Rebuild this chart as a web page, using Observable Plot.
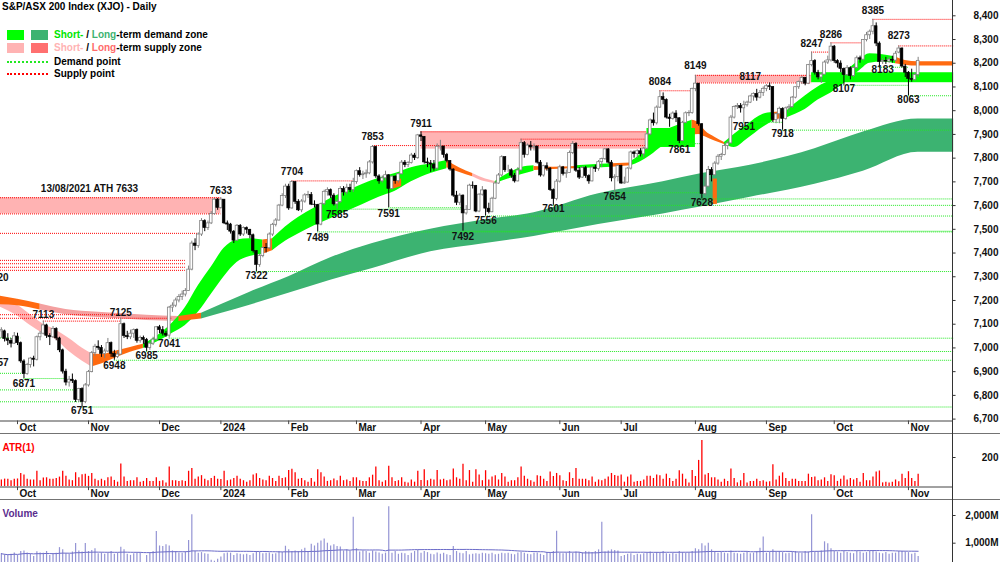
<!DOCTYPE html>
<html><head><meta charset="utf-8">
<script src="https://cdn.jsdelivr.net/npm/d3@7"></script>
<script src="https://cdn.jsdelivr.net/npm/@observablehq/plot@0.6"></script>
<style>
body{margin:0;background:#fff;font-family:"Liberation Sans",Arial,sans-serif;}
#wrap{position:relative;width:1000px;height:562px;overflow:hidden;background:#fff;}
.panel{position:absolute;left:0;width:1000px;}
.panel svg{display:block;}
#title{position:absolute;left:2px;top:1px;font:bold 10px "Liberation Sans",Arial,sans-serif;color:#000;line-height:12px;}
.lg{position:absolute;font:bold 10px "Liberation Sans",Arial,sans-serif;color:#000;line-height:12px;white-space:nowrap;}
.sq{position:absolute;width:17px;height:10px;}
.dl{position:absolute;width:41px;height:0;border-top:2px dotted;}
</style></head>
<body><div id="wrap"></div>
<script>
// ---------------- DATA ----------------
// daily candles [open, high, low, close], trading-day index starts at -5 (25 Sep 2023)
const firstIndex = -5;
const sep23 = [[7070,7085,7040,7076],[7070,7075,7025,7037],[7037,7060,7010,7030],[7030,7040,7000,7018],[7018,7065,7015,7049]];
const oct23 = [[7048,7062,7010,7020],[7020,7025,6935,6943],[6943,6950,6871,6890],[6890,6935,6885,6928],[6928,6960,6915,6955],[6955,6965,6920,6950],[6950,7050,6945,7045],[7045,7070,7030,7060],[7060,7113,7055,7095],[7095,7100,7040,7051],[7051,7060,7010,7045],[7045,7090,7040,7080],[7080,7085,7030,7040],[7040,7045,6980,6990],[6990,6995,6890,6900],[6900,6910,6840,6854],[6854,6880,6835,6866],[6866,6890,6850,6860],[6860,6865,6770,6780],[6780,6830,6770,6827],[6827,6832,6751,6772],[6772,6850,6765,6842]];
const nov23 = [[6842,6905,6835,6898],[6898,6985,6895,6978],[6978,7015,6965,7005],[7005,7030,6990,7000],[7000,7010,6960,6975],[6975,6995,6955,6985],[6985,7040,6980,7020],[7020,7025,6960,6975],[6975,6990,6948,6962],[6962,6985,6955,6972],[6972,7125,6970,7100],[7100,7105,7040,7050],[7050,7070,7035,7045],[7045,7075,7035,7060],[7060,7080,7040,7075],[7075,7080,7020,7030],[7030,7050,7020,7042],[7042,7050,7015,7034],[7034,7040,6985,7000],[7000,7025,6990,7018],[7018,7045,7010,7035],[7035,7090,7030,7087]];
const dec23 = [[7087,7095,7060,7075],[7075,7090,7050,7060],[7060,7070,7045,7052],[7052,7175,7041,7170],[7170,7190,7150,7178],[7178,7210,7170,7200],[7200,7225,7190,7215],[7215,7240,7200,7225],[7225,7250,7215,7240],[7240,7345,7240,7330],[7330,7450,7325,7440],[7440,7460,7410,7430],[7430,7485,7420,7478],[7478,7545,7470,7535],[7535,7540,7490,7505],[7505,7535,7495,7525],[7525,7575,7520,7565],[7565,7630,7560,7625],[7625,7630,7580,7590]];
const jan24 = [[7590,7633,7585,7625],[7625,7625,7520,7525],[7525,7535,7495,7520],[7520,7525,7480,7490],[7490,7495,7440,7452],[7452,7520,7450,7515],[7515,7520,7470,7478],[7478,7510,7470,7505],[7505,7510,7480,7498],[7498,7500,7460,7475],[7475,7480,7400,7408],[7408,7410,7322,7350],[7350,7395,7340,7387],[7387,7425,7380,7421],[7421,7440,7400,7420],[7420,7485,7415,7478],[7478,7525,7470,7519],[7519,7545,7510,7537],[7537,7605,7535,7600],[7600,7650,7595,7640],[7640,7690,7630,7680]];
const feb24 = [[7680,7690,7580,7588],[7588,7704,7585,7699],[7699,7700,7605,7616],[7616,7625,7575,7580],[7580,7625,7570,7617],[7617,7650,7610,7643],[7643,7660,7630,7645],[7645,7655,7600,7604],[7604,7620,7590,7603],[7603,7605,7489,7520],[7520,7610,7515,7606],[7606,7665,7600,7658],[7658,7675,7640,7665],[7665,7670,7630,7642],[7642,7650,7598,7605],[7605,7625,7585,7615],[7615,7680,7610,7670],[7670,7680,7640,7655],[7655,7690,7645,7675],[7675,7690,7655,7665],[7665,7715,7655,7699]];
const mar24 = [[7699,7750,7690,7745],[7745,7760,7720,7728],[7728,7745,7710,7732],[7732,7750,7715,7736],[7736,7790,7730,7782],[7782,7853,7775,7847],[7847,7850,7715,7723],[7723,7730,7690,7702],[7702,7725,7695,7715],[7715,7745,7705,7728],[7728,7730,7591,7670],[7670,7725,7665,7722],[7722,7725,7690,7703],[7703,7735,7695,7732],[7732,7790,7730,7781],[7781,7790,7760,7771],[7771,7785,7760,7780],[7780,7820,7775,7811],[7811,7820,7790,7800],[7800,7900,7795,7896]];
const apr24 = [[7896,7911,7870,7890],[7890,7890,7775,7782],[7782,7800,7760,7778],[7778,7790,7740,7773],[7773,7790,7745,7756],[7756,7860,7750,7848],[7848,7875,7830,7849],[7849,7850,7800,7813],[7813,7820,7780,7788],[7788,7790,7745,7752],[7752,7755,7635,7642],[7642,7660,7600,7612],[7612,7650,7600,7642],[7642,7645,7492,7567],[7567,7600,7560,7582],[7582,7690,7580,7684],[7684,7700,7670,7683],[7683,7685,7570,7575],[7575,7650,7570,7646],[7646,7680,7640,7664]];
const may24 = [[7664,7665,7556,7587],[7587,7610,7565,7572],[7572,7635,7570,7629],[7629,7700,7625,7693],[7693,7735,7690,7727],[7727,7810,7720,7804],[7804,7805,7740,7749],[7749,7770,7740,7749],[7749,7755,7715,7726],[7726,7735,7695,7702],[7702,7760,7700,7748],[7748,7880,7745,7863],[7863,7870,7800,7814],[7814,7860,7810,7853],[7853,7870,7830,7845],[7845,7860,7830,7849],[7849,7850,7775,7781],[7781,7790,7720,7727],[7727,7770,7720,7766],[7766,7780,7745,7756],[7756,7760,7660,7665],[7665,7670,7601,7628],[7628,7710,7620,7701]];
const jun24 = [[7701,7770,7695,7761],[7761,7765,7725,7733],[7733,7750,7715,7737],[7737,7830,7735,7822],[7822,7870,7815,7860],[7860,7865,7740,7747],[7747,7760,7710,7718],[7718,7765,7715,7758],[7758,7765,7715,7724],[7724,7730,7690,7702],[7702,7765,7700,7760],[7760,7770,7740,7754],[7754,7790,7745,7783],[7783,7800,7760,7796],[7796,7840,7790,7837],[7837,7840,7775,7781],[7781,7790,7700,7715],[7715,7730,7654,7720],[7720,7770,7700,7767]];
const jul24 = [[7767,7770,7690,7693],[7693,7720,7690,7697],[7697,7760,7695,7756],[7756,7830,7750,7824],[7824,7830,7800,7817],[7817,7835,7800,7829],[7829,7840,7805,7816],[7816,7845,7800,7840],[7840,7905,7835,7900],[7900,7965,7895,7959],[7959,7990,7935,7947],[7947,8020,7940,8013],[8013,8084,8010,8057],[8057,8075,8025,8045],[8045,8050,7965,7971],[7971,7985,7930,7965],[7965,7995,7960,7988],[7988,8000,7950,7968],[7968,7970,7861,7872],[7872,7955,7870,7949],[7949,7995,7945,7989],[7989,8000,7975,7990],[7990,8095,7985,8092]];
const aug24 = [[8092,8149,8080,8114],[8114,8115,7935,7943],[7943,7945,7628,7649],[7649,7720,7640,7680],[7680,7765,7675,7750],[7750,7760,7700,7728],[7728,7785,7725,7777],[7777,7815,7770,7806],[7806,7820,7790,7813],[7813,7860,7810,7851],[7851,7870,7835,7862],[7862,7980,7860,7971],[7971,8020,7965,8016],[8016,8030,8005,8020],[8020,8030,7990,8010],[8010,8040,7951,8023],[8023,8040,8015,8034],[8034,8065,8030,8060],[8060,8075,8040,8071],[8071,8090,8040,8055],[8055,8085,8050,8075],[8075,8100,8060,8092]];
const sep24 = [[8092,8110,8080,8103],[8103,8117,8085,8100],[8100,8100,7950,7960],[7960,7990,7945,7985],[7985,8015,7945,8008],[8008,8012,7918,7965],[7965,8015,7960,8010],[8010,8025,7990,8015],[8015,8060,8010,8055],[8055,8100,8050,8099],[8099,8125,8090,8121],[8121,8145,8110,8138],[8138,8140,8105,8114],[8114,8195,8110,8192],[8192,8247,8185,8209],[8209,8215,8150,8160],[8160,8170,8130,8140],[8140,8160,8115,8152],[8152,8210,8150,8203],[8203,8230,8195,8212],[8212,8286,8205,8270]];
const oct24 = [[8270,8275,8200,8209],[8209,8215,8180,8199],[8199,8210,8160,8176],[8176,8180,8107,8150],[8150,8190,8145,8179],[8179,8185,8130,8146],[8146,8185,8140,8180],[8180,8230,8175,8221],[8221,8230,8200,8215],[8215,8300,8210,8298],[8298,8330,8290,8318],[8318,8340,8300,8333],[8333,8385,8320,8356],[8356,8370,8270,8283],[8283,8290,8183,8205],[8205,8220,8195,8210],[8210,8225,8195,8207],[8207,8225,8200,8215],[8215,8230,8200,8211],[8211,8250,8205,8240],[8245,8273,8240,8262],[8262,8265,8180,8186],[8186,8195,8140,8160]];
const nov24 = [[8160,8165,8063,8134],[8134,8175,8120,8130],[8130,8160,8125,8150],[8150,8225,8140,8210]];

// daily volume, millions of shares
const volume = [620,580,560,600,650,
560,700,720,650,600,520,690,650,640,700,560,600,640,840,760,620,600,680,990,720,680,990,
700,740,800,620,650,600,640,700,600,640,850,760,600,560,620,640,650,300,560,650,700,1420,
900,880,940,900,720,700,650,640,680,1100,2030,700,640,660,620,600,380,350,420,
500,620,650,640,560,620,600,580,600,560,620,700,660,620,640,650,600,620,700,660,890,
760,700,720,700,760,820,700,960,900,1000,1080,1150,1000,900,940,880,860,720,760,700,1940,
800,680,720,700,640,720,680,650,600,640,2320,640,700,600,640,620,560,640,700,740,
640,700,660,600,580,650,600,640,580,560,880,700,640,620,700,580,600,620,600,640,
620,600,640,580,600,640,620,640,600,580,650,660,640,600,580,640,650,600,560,660,640,700,1430,
640,620,650,700,640,680,660,650,700,680,660,700,760,1760,680,720,760,740,720,
520,560,600,620,560,600,580,620,640,680,620,660,640,700,620,600,640,600,700,660,640,650,700,
800,760,980,900,1000,760,700,640,660,640,620,720,640,620,600,640,660,620,640,700,820,1220,
640,660,760,680,700,660,620,640,660,700,650,640,700,680,2025,660,680,720,1050,980,800,
700,680,640,700,660,640,620,700,680,640,660,700,720,680,640,620,660,600,640,640,700,700,680,
660,600,640,520];

// month tick labels [trading-day index, label]
const monthTicks = [[0,"Oct"],[22,"Nov"],[44,"Dec"],[63,"2024"],[84,"Feb"],[105,"Mar"],[125,"Apr"],[145,"May"],[168,"Jun"],[187,"Jul"],[210,"Aug"],[232,"Sep"],[253,"Oct"],[276,"Nov"]];
const priceTicks = [6700,6800,6900,7000,7100,7200,7300,7400,7500,7600,7700,7800,7900,8000,8100,8200,8300,8400];
const atrTicks = [200];
const volTicks = [1000,2000];

// zone bands [segment, index, low, high]
const ltSupplyBand = [[1,7,7160,7185],[1,15,7140,7162],[1,25,7128,7150],[1,35,7120,7142],[1,45,7113,7135],[1,50,7111,7133]];
const ltDemandBand = [[1,57,7122,7146],[1,63,7145,7182],[1,72,7180,7235],[1,84,7230,7300],[1,97,7285,7380],[1,110,7335,7440],[1,128,7405,7500],[1,145,7440,7540],[1,160,7470,7570],[1,180,7520,7650],[1,200,7565,7700],[1,212,7595,7735],[1,227,7635,7770],[1,247,7690,7840],[1,262,7745,7910],[1,279,7825,7965],[1,290,7825,7965]];
const stSupplyBand = [[1,-5.27,7172,7200],[1,0,7135,7180],[1,4,7095,7140],[1,8,7060,7100],[1,12,7035,7075],[1,16,6985,7040],[1,20,6945,7000],[1,23,6920,6975],
  [2,141,7722,7735],[2,145,7700,7712],[2,148,7692,7702]];
const stDemandBand = [
  [1,39,6998,7015],[1,44,7030,7058],[1,48,7062,7105],[1,52,7095,7170],[1,56,7150,7262],[1,60,7225,7340],[1,64,7300,7420],[1,68,7360,7455],[1,72,7385,7460],[1,76,7395,7455],
  [2,79,7410,7460],[2,83,7450,7510],[2,87,7480,7550],[2,92,7515,7590],[2,97,7545,7630],[2,102,7575,7660],[2,107,7605,7690],[2,112,7635,7715],[2,117,7660,7735],[2,122,7700,7760],[2,128,7735,7775],[2,133,7755,7790],
  [3,148,7692,7702],[3,152,7712,7735],[3,156,7730,7760],[3,160,7745,7768],
  [4,173,7755,7768],[4,178,7758,7772],[4,184,7762,7776],
  [5,190,7768,7785],[5,193,7785,7815],[5,196,7810,7860],[5,200,7850,7910],[5,204,7870,7935],[5,209,7895,7960],
  [6,219,7858,7866],[6,222,7845,7900],[6,226,7880,7940],[6,231,7930,7985],[6,234,7955,7992],
  [7,238,7968,7995],[7,241,7985,8030],[7,244,8005,8062],[7,248,8045,8100],[7,252,8075,8128],[7,257,8125,8170],[7,261,8170,8215],[7,264,8200,8240],[7,268,8205,8236],[7,272,8198,8226]];
const orangeBand = [
  [1,-5.27,7182,7218],[1,0,7178,7205],[1,7,7160,7185],
  [2,50,7111,7133],[2,57,7122,7146],
  [3,23,6920,6975],[3,26,6932,6972],[3,30,6955,6985],[3,35,6982,7002],[3,39,6998,7015],
  [4,76,7395,7455],[4,79,7410,7460],
  [5,116,7668,7705],[5,119,7680,7712],
  [6,133,7760,7790],[6,137,7740,7758],[6,141,7722,7735],
  [7,160,7748,7765],[7,166,7752,7762],[7,173,7755,7765],
  [8,184,7762,7776],[8,190,7768,7780],
  [9,209,7895,7960],[9,211,7900,7950],[9,213,7890,7915],[9,216,7872,7888],[9,219,7858,7866],
  [10,234,7955,7992],[10,236,7965,7995],[10,238,7968,7995],
  [11,272,8198,8226],[11,275,8192,8212],[11,279,8188,8206],[11,290,8188,8206]];
// flat zones [from, to, low, high]
const stSupplyRects = [[-5.27,63,7565,7633],[125,195,7838,7911],[210,246,8117,8149]];
const stDemandRects = [[195,210,7845,7925],[246,290,8118,8160]];
const orangeRects = [[215.5,216.8,7605,7712]];
// supply / demand points [from, to, level]
const supplyLines = [[-5.27,63,7633],[-5.27,63,7565],[-5.27,56,7483],[-5.27,52,7369],[-5.27,52,7355],[-5.27,52,7340],[-5.27,52,7327],[-5.27,32,7140],[-5.27,32,7125],[8,32,7113],[32,48,7125],[85,104,7704],[110,195,7853],[125,195,7911],[156,195,7880],[199,209,8084],[210,246,8149],[210,246,8117],[246,252,8247],[252,262,8286],[265,290,8385],[273,290,8273]];
const demandLines = [[-5.27,1,7042],[-5.27,2,6893],[-5.27,20,6823],[-5.27,20,6773],[2,15,6871],[20,290,6751],[30,290,6948],[40,290,6985],[47,290,7041],[74,290,7322],[93,290,7489],[99,138,7585],[115,138,7591],[138,290,7492],[145,290,7556],[166,290,7601],[185,212,7654],[205,212,7861],[212,290,7628],[225,237,7951],[237,290,7918],[256,276,8107],[267,276,8183],[276,290,8063]];
// pivot labels [index, label centre level, text]
const pivotLabels = [[2,6847,"6871"],[8,7138,"7113"],[20,6735,"6751"],[32,7146,"7125"],[30,6925,"6948"],[40,6965,"6985"],[47,7017,"7041"],[63,7663,"7633"],[74,7303,"7322"],[85,7742,"7704"],[93,7466,"7489"],[99,7562,"7585"],[110,7890,"7853"],[115,7565,"7591"],[125,7944,"7911"],[138,7469,"7492"],[145,7536,"7556"],[166,7585,"7601"],[185,7635,"7654"],[199,8120,"8084"],[205,7836,"7861"],[210,8188,"8149"],[212,7610,"7628"],[225,7933,"7951"],[227,8141,"8117"],[237,7902,"7918"],[246,8282,"8247"],[252,8322,"8286"],[256,8092,"8107"],[265,8422,"8385"],[268,8172,"8183"],[273,8316,"8273"],[276,8048,"8063"]];
const edgeLabels = [[-2.79,6939,"6957"],[-2.79,7296,"7320"]];
const notes = [[22.3,7671,"13/08/2021 ATH 7633"]];

// ---------------- BUILD ----------------
const rows = [].concat(sep23,oct23,nov23,dec23,jan24,feb24,mar24,apr24,may24,jun24,jul24,aug24,sep24,oct24,nov24);
const candles = rows.map((r,k)=>({i:firstIndex+k,o:r[0],h:r[1],l:r[2],c:r[3]}));
candles.forEach((d,k)=>{const pc=k?candles[k-1].c:d.o; d.tr=Math.max(d.h-d.l,Math.abs(d.h-pc),Math.abs(d.l-pc));});
const vols = volume.map((v,k)=>({i:candles[k].i,v}));
const up = candles.filter(d=>d.c>=d.o), dn = candles.filter(d=>d.c<d.o);

const X0=-5.27, X1=289.64, XR=304.5;
const font='"Liberation Sans", Arial, sans-serif';
function panel(height, y, marks){
  return Plot.plot({width:1000,height,marginLeft:0,marginRight:48,marginTop:0,marginBottom:0,
    x:{domain:[X0,X1],range:[0,952],axis:null}, y:{...y,axis:null},
    style:{fontFamily:font,fontSize:"10px",background:"transparent",overflow:"hidden"}, marks});
}
const band=(data,fill)=>Plot.areaY(data,{x:d=>d[1],y1:d=>d[2],y2:d=>d[3],z:d=>d[0],fill,curve:"monotone-x"});
const zone=(data,fill)=>Plot.rect(data,{x1:d=>d[0],x2:d=>d[1],y1:d=>d[2],y2:d=>d[3],fill});
const dots=(data,stroke)=>Plot.ruleY(data,{x1:d=>d[0],x2:d=>d[1],y:d=>d[2],stroke,strokeWidth:1,strokeDasharray:"1,1"});
const fmt=d3.format(",");

const price = panel(434,{domain:[6700,8400],range:[418.6,15.3]},[
  band(ltSupplyBand,"#F4A0A0"),
  band(ltDemandBand,"#3CB371"),
  band(stSupplyBand,"#FFB3B3"),
  band(stDemandBand,"#00FF00"),
  band(orangeBand,"#FF6A10"),
  zone(stSupplyRects,"#FFB3B3"),
  zone(stDemandRects,"#00FF00"),
  zone(orangeRects,"#FF6A10"),
  dots(supplyLines,"#FF0000"),
  dots(demandLines,"#22E822"),
  Plot.ruleX(up,{x:"i",y1:"l",y2:"h",stroke:"#808080",strokeWidth:1}),
  Plot.ruleX(dn,{x:"i",y1:"l",y2:"h",stroke:"#000",strokeWidth:1}),
  Plot.rect(up,{x1:d=>d.i-0.42,x2:d=>d.i+0.42,y1:"o",y2:"c",fill:"#fff",stroke:"#808080",strokeWidth:0.8}),
  Plot.rect(dn,{x1:d=>d.i-0.42,x2:d=>d.i+0.42,y1:"o",y2:"c",fill:"#000",stroke:"#000",strokeWidth:0.6}),
  Plot.text(pivotLabels,{x:d=>d[0],y:d=>d[1],text:d=>d[2],fontWeight:"bold",fill:"#111"}),
  Plot.text(edgeLabels,{x:d=>d[0],y:d=>d[1],text:d=>d[2],textAnchor:"end",fontWeight:"bold",fill:"#111"}),
  Plot.text(notes,{x:d=>d[0],y:d=>d[1],text:d=>d[2],fontWeight:"bold",fill:"#111"}),
  Plot.ruleY(priceTicks,{x1:X1,x2:X1+1.1,stroke:"#333"}),
  Plot.text(priceTicks,{y:d=>d,text:d=>fmt(d),frameAnchor:"right",textAnchor:"end",dx:46,fontWeight:"bold",fill:"#111"}),
  Plot.ruleX([X1],{stroke:"#333"})
]);
function dateRow(){
  return panel(14,{domain:[0,1],range:[13.5,0.5]},[
    Plot.ruleY([1],{x1:X0,x2:X1,stroke:"#444"}),
    Plot.ruleY([0],{x1:X0,x2:XR,stroke:"#444",strokeWidth:1.5}),
    Plot.ruleX(monthTicks,{x:d=>d[0],y1:1,y2:0.72,stroke:"#444"}),
    Plot.text(monthTicks,{x:d=>d[0],y:0.45,text:d=>d[1],textAnchor:"start",dx:2,fontWeight:"bold",fill:"#111"}),
    Plot.ruleX([X1],{stroke:"#333"})
  ]);
}
const atr = panel(52,{domain:[0,200],range:[52,23]},[
  Plot.ruleX(candles,{x:"i",y1:0,y2:"tr",stroke:"#FF0000",strokeWidth:1.3}),
  Plot.text(["ATR(1)"],{text:d=>d,frameAnchor:"top-left",dx:2,dy:9,textAnchor:"start",fill:"#FF0000",fontWeight:"bold"}),
  Plot.ruleY(atrTicks,{x1:X1,x2:X1+1.1,stroke:"#333"}),
  Plot.text(atrTicks,{y:d=>d,text:d=>fmt(d),frameAnchor:"right",textAnchor:"end",dx:46,fontWeight:"bold",fill:"#111"}),
  Plot.ruleX([X1],{stroke:"#333"})
]);
const vol = panel(62,{domain:[0,1000],range:[70.4,42.7]},[
  Plot.ruleX(vols,{x:"i",y1:0,y2:"v",stroke:"#9494D4",strokeWidth:1.2}),
  Plot.lineY(vols,Plot.windowY({k:60,anchor:"end",reduce:"mean"},{x:"i",y:"v",stroke:"#6B6BC9",strokeWidth:1})),
  Plot.text(["Volume"],{text:d=>d,frameAnchor:"top-left",dx:2,dy:9,textAnchor:"start",fill:"#5B2D8E",fontWeight:"bold"}),
  Plot.ruleY(volTicks,{x1:X1,x2:X1+1.1,stroke:"#333"}),
  Plot.text(volTicks,{y:d=>d,text:d=>fmt(d)+"M",frameAnchor:"right",textAnchor:"end",dx:46,fontWeight:"bold",fill:"#111"}),
  Plot.ruleX([X1],{stroke:"#333"})
]);

const wrap=document.getElementById("wrap");
[[price,0],[dateRow(),420],[atr,434],[dateRow(),486],[vol,500]].forEach(([svg,top])=>{
  const d=document.createElement("div");d.className="panel";d.style.top=top+"px";d.appendChild(svg);wrap.appendChild(d);
});
// title and legend
wrap.insertAdjacentHTML("beforeend",`
<div id="title">S&amp;P/ASX 200 Index (XJO) - Daily</div>
<div class="sq" style="left:7px;top:30px;background:#00FF00"></div>
<div class="sq" style="left:31px;top:30px;background:#3CB371"></div>
<div class="lg" style="left:54px;top:29px"><span style="color:#00E600">Short-</span> / <span style="color:#3CB371">Long</span>-term demand zone</div>
<div class="sq" style="left:7px;top:43px;background:#FFB3B3"></div>
<div class="sq" style="left:31px;top:43px;background:#FF7070"></div>
<div class="lg" style="left:54px;top:42px"><span style="color:#FFB3B3">Short-</span> / <span style="color:#FF6B6B">Long</span>-term supply zone</div>
<div class="dl" style="left:7px;top:61px;border-color:#22E822"></div>
<div class="lg" style="left:54px;top:56px">Demand point</div>
<div class="dl" style="left:7px;top:73px;border-color:#FF0000"></div>
<div class="lg" style="left:54px;top:68px">Supply point</div>`);
</script>
</body></html>
